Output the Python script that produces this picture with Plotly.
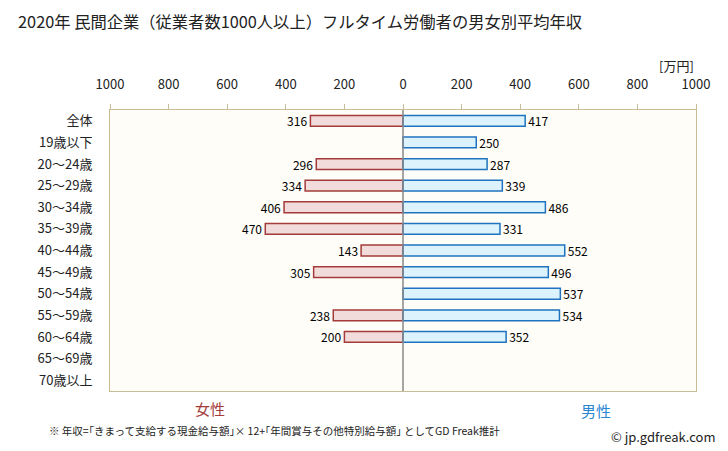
import plotly.graph_objects as go

categories = ["全体", "19歳以下", "20～24歳", "25～29歳", "30～34歳", "35～39歳",
              "40～44歳", "45～49歳", "50～54歳", "55～59歳", "60～64歳", "65～69歳", "70歳以上"]
female = [316, None, 296, 334, 406, 470, 143, 305, None, 238, 200, None, None]
male = [417, 250, 287, 339, 486, 331, 552, 496, 537, 534, 352, None, None]
tick_vals = [-1000, -800, -600, -400, -200, 0, 200, 400, 600, 800, 1000]
tick_text = ["1000", "800", "600", "400", "200", "0", "200", "400", "600", "800", "1000"]

FONT = "Noto Sans CJK JP, DejaVu Sans, sans-serif"

fig = go.Figure()
fig.add_trace(go.Bar(
    y=categories, x=[-v if v is not None else None for v in female], orientation="h",
    marker=dict(color="#f2dcdb", line=dict(color="#a33b3a", width=1.5)),
    width=0.5, text=[str(v) if v is not None else "" for v in female],
    textposition="outside", constraintext="none", textfont=dict(size=12, color="#000000"),
    cliponaxis=False, hoverinfo="skip", showlegend=False))
fig.add_trace(go.Bar(
    y=categories, x=male, orientation="h",
    marker=dict(color="#dcf3fd", line=dict(color="#1f73bf", width=1.5)),
    width=0.5, text=[str(v) if v is not None else "" for v in male],
    textposition="outside", constraintext="none", textfont=dict(size=12, color="#000000"),
    cliponaxis=False, hoverinfo="skip", showlegend=False))

fig.update_layout(
    width=720, height=443,
    margin=dict(l=102, r=32, t=102, b=60),
    barmode="overlay",
    paper_bgcolor="#ffffff", plot_bgcolor="#fffdf7",
    font=dict(family=FONT, size=12, color="#222222"),
    title=dict(text="2020年 民間企業（従業者数1000人以上）フルタイム労働者の男女別平均年収",
               x=0.014, xanchor="left", y=0.968, yanchor="middle",
               font=dict(size=16.3, color="#222222")),
    xaxis=dict(range=[-1000, 1000], side="top", tickvals=tick_vals, ticktext=tick_text,
               showgrid=False, zeroline=False, ticks="outside", ticklen=5,
               tickcolor="#c8bc96", showline=True, linecolor="#c8bc96", mirror=True,
               automargin=False, ticklabelstandoff=10,
               tickfont=dict(size=13, color="#222222"), fixedrange=True),
    yaxis=dict(autorange="reversed", showgrid=False, zeroline=False,
               showline=True, linecolor="#c8bc96", mirror=True, ticks="",
               ticklabelstandoff=14, automargin=False,
               tickfont=dict(size=13, color="#222222"), fixedrange=True),
    shapes=[dict(type="line", xref="x", yref="paper", x0=0, x1=0, y0=0, y1=1,
                 line=dict(color="#888888", width=1.5))],
    annotations=[
        dict(text="[万円]", xref="paper", yref="paper", x=1.0, y=1.0, yshift=45,
             xanchor="right", yanchor="middle", showarrow=False,
             font=dict(size=13, color="#222222")),
        dict(text="女性", xref="x", yref="paper", x=-660, y=0, yshift=-17,
             xanchor="center", yanchor="middle", showarrow=False,
             font=dict(size=15, color="#a33b3a")),
        dict(text="男性", xref="x", yref="paper", x=660, y=0, yshift=-19,
             xanchor="center", yanchor="middle", showarrow=False,
             font=dict(size=15, color="#2a86d2")),
        dict(text="※ 年収=｢きまって支給する現金給与額｣× 12+｢年間賞与その他特別給与額｣ としてGD Freak推計",
             xref="paper", yref="paper", x=-0.107, y=0, yshift=-39,
             xanchor="left", yanchor="middle", showarrow=False,
             font=dict(size=10.5, color="#222222")),
        dict(text="© jp.gdfreak.com", xref="paper", yref="paper", x=1.0, y=0, xshift=22, yshift=-45,
             xanchor="right", yanchor="middle", showarrow=False,
             font=dict(size=13, color="#222222")),
    ],
)

fig.write_html("out.html")
